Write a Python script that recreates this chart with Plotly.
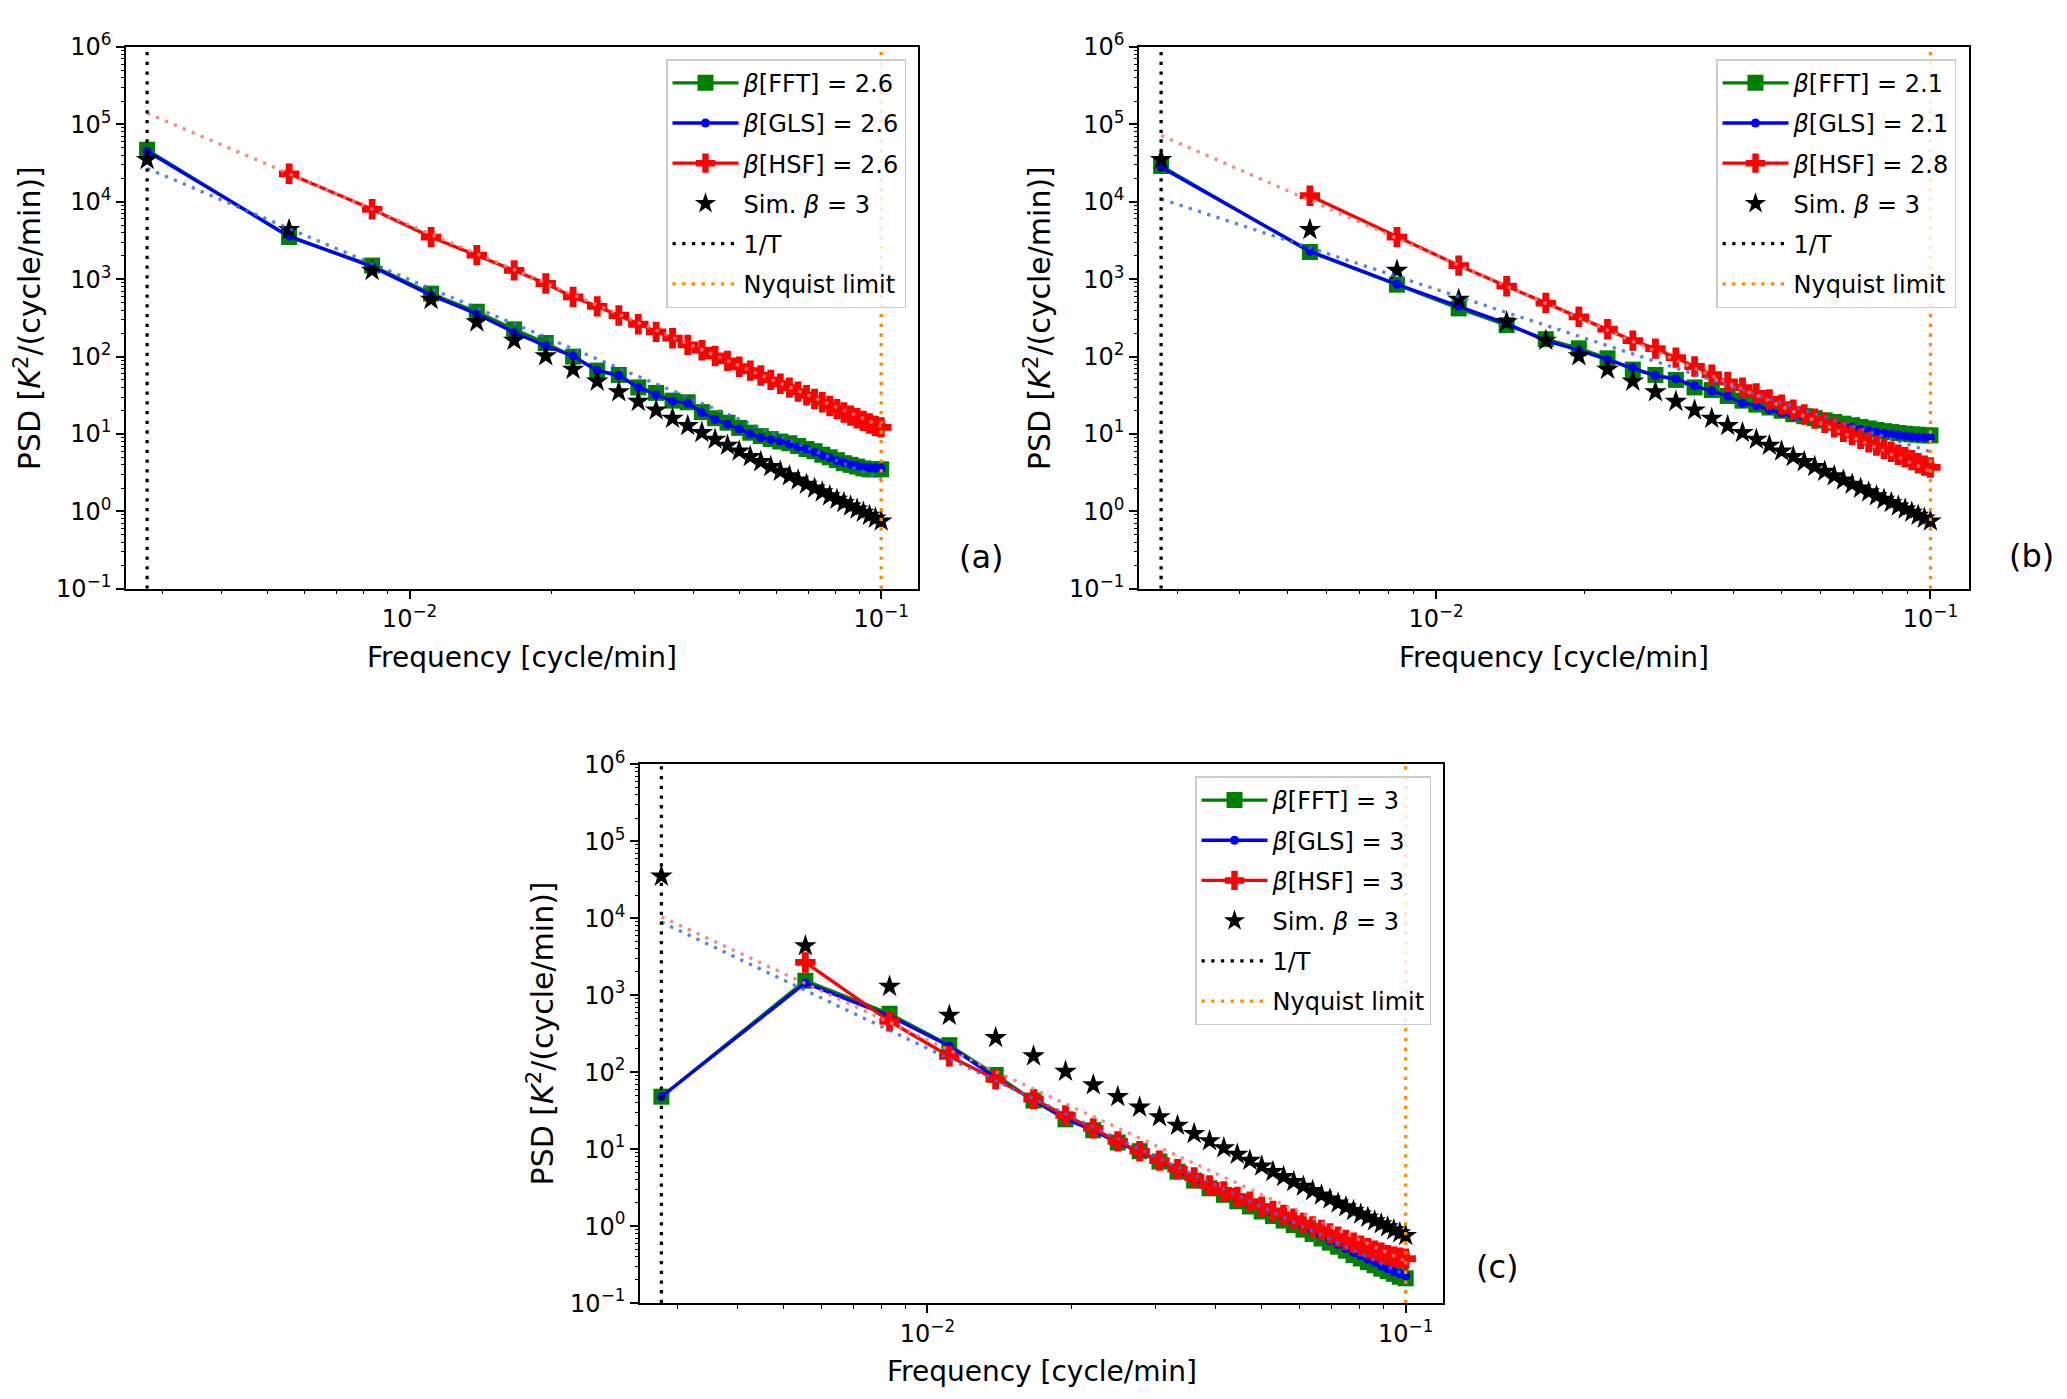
import plotly.graph_objects as go

# frequency grid k/T, T = 360 min, k = 1..36
freq = [0.002778, 0.005556, 0.008333, 0.011111, 0.013889, 0.016667, 0.019444,
        0.022222, 0.025, 0.027778, 0.030556, 0.033333, 0.036111, 0.038889,
        0.041667, 0.044444, 0.047222, 0.05, 0.052778, 0.055556, 0.058333,
        0.061111, 0.063889, 0.066667, 0.069444, 0.072222, 0.075, 0.077778,
        0.080556, 0.083333, 0.086111, 0.088889, 0.091667, 0.094444, 0.097222, 0.1]
f_inv_T = 0.002778
f_nyq = 0.1
fit_x = [0.002778, 0.1]

# simulated beta = 3 spectrum (same in all panels)
sim = [35000, 4375, 1296, 547, 280, 162, 102, 68.4, 48.0, 35.0, 26.3, 20.3,
       15.9, 12.8, 10.4, 8.54, 7.12, 6.00, 5.10, 4.38, 3.78, 3.29, 2.88, 2.53,
       2.24, 1.99, 1.78, 1.59, 1.43, 1.30, 1.17, 1.07, 0.974, 0.890, 0.816, 0.750]

# panel (a)
fft_a = [4.7e4, 3.5e3, 1.5e3, 650, 380, 225, 150, 100, 66, 58, 40, 34, 27, 25.7,
         19.2, 16, 14, 12, 10.4, 9.4, 8.6, 8.0, 7.6, 7.0, 6.4, 6.0, 5.4, 5.0,
         4.6, 4.2, 4.0, 3.8, 3.6, 3.5, 3.5, 3.5]
gls_a = [4.5e4, 3.6e3, 1.45e3, 620, 355, 205, 137, 102, 66, 57, 40, 32, 26.5, 25,
         19, 15.4, 13.4, 11.6, 10.0, 9.0, 8.4, 8.1, 7.4, 6.8, 6.4, 5.8, 5.3, 4.95,
         4.5, 4.3, 4.05, 3.9, 3.75, 3.67, 3.63, 3.6]
hsf_a = [2.3e4, 8.0e3, 3.5e3, 2.05e3, 1.3e3, 880, 590, 446, 340, 262, 209, 173,
         142, 121, 102, 88, 74, 66, 57, 50, 44.6, 39.7, 35.3, 31.7, 28.3, 25.7,
         23, 21, 19, 17.3, 16, 14.8, 13.7, 12.7, 12.2]
gls_fit_a = [2.7e4, 2.6]
hsf_fit_a = [1.4e5, 12.6]

# panel (b)
fft_b = [2.9e4, 2.25e3, 850, 420, 255, 168, 128, 95, 68, 58, 50, 40, 37, 31, 27,
         24, 22, 20, 18, 17, 16, 15, 14.3, 13.6, 13, 12.3, 11.8, 11.3, 10.9, 10.6,
         10.3, 10.1, 9.9, 9.8, 9.6, 9.6]
gls_b = [2.8e4, 2.3e3, 860, 446, 267, 161, 121, 91, 72, 57, 51.5, 41.7, 36, 30.8,
         25, 23.3, 20.5, 18.7, 16.9, 16, 15.1, 14.2, 13.4, 12.8, 12.2, 11.5, 11.1,
         10.6, 10.2, 9.9, 9.7, 9.4, 9.2, 9.1, 9.0, 9.0]
hsf_b = [1.2e4, 3.5e3, 1.5e3, 813, 492, 327, 226, 161, 127, 97, 74.5, 58.5, 47.2,
         39.7, 33.4, 28, 24, 20.6, 17.9, 15.8, 14, 12.2, 10.7, 9.7, 8.7, 7.8, 7.1,
         6.4, 5.9, 5.4, 5.0, 4.6, 4.2, 3.9, 3.7]
gls_fit_b = [1.09e4, 5.9]
hsf_fit_b = [7.2e4, 3.3]

# panel (c)
fft_c = [48, 1.54e3, 572, 224, 92, 42.8, 24.4, 17.6, 12.2, 9.4, 6.9, 5.1, 3.9, 3.1,
         2.55, 2.1, 1.8, 1.55, 1.35, 1.18, 1.03, 0.9, 0.79, 0.69, 0.61, 0.54, 0.48,
         0.42, 0.38, 0.34, 0.31, 0.28, 0.26, 0.24, 0.22, 0.21]
gls_c = [48, 1.44e3, 535, 218, 84, 43, 25, 17.5, 12.2, 9.2, 7.0, 5.3, 4.1, 3.2,
         2.7, 2.25, 1.93, 1.67, 1.45, 1.28, 1.12, 0.98, 0.85, 0.74, 0.65, 0.58,
         0.51, 0.45, 0.41, 0.37, 0.34, 0.30, 0.28, 0.255, 0.24, 0.225]
hsf_c = [2.66e3, 458, 161, 81, 44.6, 27.4, 18.6, 12.6, 9.4, 7.1, 5.5, 4.3, 3.37,
         2.83, 2.4, 2.07, 1.79, 1.58, 1.40, 1.25, 1.10, 0.99, 0.89, 0.805, 0.73,
         0.66, 0.61, 0.557, 0.515, 0.48, 0.45, 0.42, 0.40, 0.39, 0.377]
gls_fit_c = [8.9e3, 0.23]
hsf_fit_c = [1.04e4, 0.35]

betas = {
    'a': ('2.6', '2.6', '2.6'),
    'b': ('2.1', '2.1', '2.8'),
    'c': ('3', '3', '3'),
}

panels = [
    ('a', '', fft_a, gls_a, hsf_a, gls_fit_a, hsf_fit_a),
    ('b', '2', fft_b, gls_b, hsf_b, gls_fit_b, hsf_fit_b),
    ('c', '3', fft_c, gls_c, hsf_c, gls_fit_c, hsf_fit_c),
]

LW = 3.3
DOT = '3.3px,6.4px'

fig = go.Figure()

for name, ax, fft, gls, hsf, gls_fit, hsf_fit in panels:
    b_fft, b_gls, b_hsf = betas[name]
    common = dict(xaxis='x' + ax, yaxis='y' + ax, legend='legend' + ax)

    fig.add_trace(go.Scatter(
        x=freq, y=fft, mode='lines+markers', name=f'<i>β</i>[FFT] = {b_fft}',
        line=dict(color='#008000', width=LW),
        marker=dict(symbol='square', size=16, color='#008000'),
        legendgroup=name + '1', **common))
    fig.add_trace(go.Scatter(
        x=freq, y=gls, mode='lines+markers', name=f'<i>β</i>[GLS] = {b_gls}',
        line=dict(color='#0000ff', width=LW),
        marker=dict(symbol='circle', size=9, color='#0000ff'),
        legendgroup=name + '2', **common))
    fig.add_trace(go.Scatter(
        x=freq[1:], y=hsf, mode='lines+markers', name=f'<i>β</i>[HSF] = {b_hsf}',
        line=dict(color='#ff0000', width=LW),
        marker=dict(symbol='cross', size=17, color='#ff0000'),
        legendgroup=name + '3', **common))
    fig.add_trace(go.Scatter(
        x=freq, y=sim, mode='markers', name='Sim. <i>β</i> = 3',
        marker=dict(symbol='star', size=17, color='black'),
        legendgroup=name + '4', **common))

    # fitted power laws
    fig.add_trace(go.Scatter(
        x=fit_x, y=gls_fit, mode='lines', showlegend=False,
        line=dict(color='rgba(65,105,225,0.85)', width=LW, dash=DOT), **common))
    fig.add_trace(go.Scatter(
        x=fit_x, y=hsf_fit, mode='lines', showlegend=False,
        line=dict(color='rgba(240,128,128,0.9)', width=LW, dash=DOT), **common))

    # 1/T and Nyquist lines
    fig.add_trace(go.Scatter(
        x=[f_inv_T, f_inv_T], y=[0.1, 1e6], mode='lines', name='1/T',
        line=dict(color='black', width=LW, dash=DOT),
        legendgroup=name + '5', **common))
    fig.add_trace(go.Scatter(
        x=[f_nyq, f_nyq], y=[0.1, 1e6], mode='lines', name='Nyquist limit',
        line=dict(color='#ff8c00', width=LW, dash=DOT),
        legendgroup=name + '6', **common))

W, H = 2067, 1399

# axes boxes in pixels (left, right, top, bottom); last item = minor-tick axis id
boxes = {
    '': (118, 910, 21.5, 576, '4'),
    '2': (1131, 1961, 21.5, 576, '5'),
    '3': (632, 1435, 755.5, 1307, '6'),
}

x_range = [-2.601, -0.922]
y_range = [-1, 6]
y_tickvals = [0.1, 1, 10, 100, 1e3, 1e4, 1e5, 1e6]
y_ticktext = ['10<sup>−1</sup>', '10<sup>0</sup>', '10<sup>1</sup>', '10<sup>2</sup>',
              '10<sup>3</sup>', '10<sup>4</sup>', '10<sup>5</sup>', '10<sup>6</sup>']
minor_x = [m * 10 ** e for e in range(-3, 0) for m in range(2, 10)]
minor_y = [m * 10 ** e for e in range(-1, 6) for m in range(2, 10)]

axis_style = dict(
    type='log', showline=True, mirror=True, linecolor='black', linewidth=1.6,
    ticks='outside', ticklen=8, tickwidth=1.6, tickcolor='black',
    showgrid=False, zeroline=False, tickfont=dict(size=24, color='black'),
)
minor_style = dict(
    type='log', showline=False, showgrid=False, zeroline=False,
    ticks='outside', ticklen=4.5, tickwidth=1.2, tickcolor='black',
    showticklabels=False, tickmode='array',
)

for ax, (l, r, t, b, mn) in boxes.items():
    fig.layout['xaxis' + ax] = dict(
        axis_style, domain=[l / W, r / W], anchor='y' + ax, range=x_range,
        tickmode='array', tickvals=[0.01, 0.1],
        ticktext=['10<sup>−2</sup>', '10<sup>−1</sup>'])
    fig.layout['yaxis' + ax] = dict(
        axis_style, domain=[1 - b / H, 1 - t / H], anchor='x' + ax,
        range=y_range, tickmode='array', tickvals=y_tickvals, ticktext=y_ticktext)
    # minor log ticks drawn on overlaid axes
    fig.layout['xaxis' + mn] = dict(
        minor_style, overlaying='x' + ax, anchor='y' + ax, side='bottom',
        range=x_range, tickvals=minor_x)
    fig.layout['yaxis' + mn] = dict(
        minor_style, overlaying='y' + ax, anchor='x' + ax, side='left',
        range=y_range, tickvals=minor_y)
    fig.add_trace(go.Scatter(x=[], y=[], xaxis='x' + mn, yaxis='y' + ax,
                             showlegend=False, hoverinfo='skip'))
    fig.add_trace(go.Scatter(x=[], y=[], xaxis='x' + ax, yaxis='y' + mn,
                             showlegend=False, hoverinfo='skip'))

legend_style = dict(
    xanchor='right', yanchor='top', bgcolor='rgba(255,255,255,0.8)',
    bordercolor='#cccccc', borderwidth=1.5, font=dict(size=24, color='black'),
    tracegroupgap=6, itemwidth=66, traceorder='grouped',
)
fig.update_layout(
    legend=dict(legend_style, x=898 / W, y=1 - 34 / H),
    legend2=dict(legend_style, x=1948 / W, y=1 - 34 / H),
    legend3=dict(legend_style, x=1423 / W, y=1 - 768 / H),
)

annotations = []
xlabel_pos = [(514, 646), (1546, 646), (1034, 1377)]
ylabel_pos = [(20, 299), (1030, 299), (533, 1031)]
tag_pos = [('(a)', 973, 543), ('(b)', 2023, 542), ('(c)', 1489, 1270)]

anchor = dict(xref='paper', yref='paper', xanchor='center', yanchor='middle',
              showarrow=False)
for x, y in xlabel_pos:
    annotations.append(dict(anchor, text='Frequency [cycle/min]', x=x / W,
                            y=1 - y / H, font=dict(size=28, color='black')))
for x, y in ylabel_pos:
    annotations.append(dict(anchor, text='PSD [<i>K</i><sup>2</sup>/(cycle/min)]',
                            x=x / W, y=1 - y / H, textangle=-90,
                            font=dict(size=30, color='black')))
for txt, x, y in tag_pos:
    annotations.append(dict(anchor, text=txt, x=x / W, y=1 - y / H,
                            font=dict(size=32, color='black')))

fig.update_layout(
    width=W, height=H, margin=dict(l=0, r=0, t=0, b=0),
    paper_bgcolor='white', plot_bgcolor='white',
    font=dict(family='DejaVu Sans', color='black'),
    annotations=annotations,
)

fig.write_html('out.html')
